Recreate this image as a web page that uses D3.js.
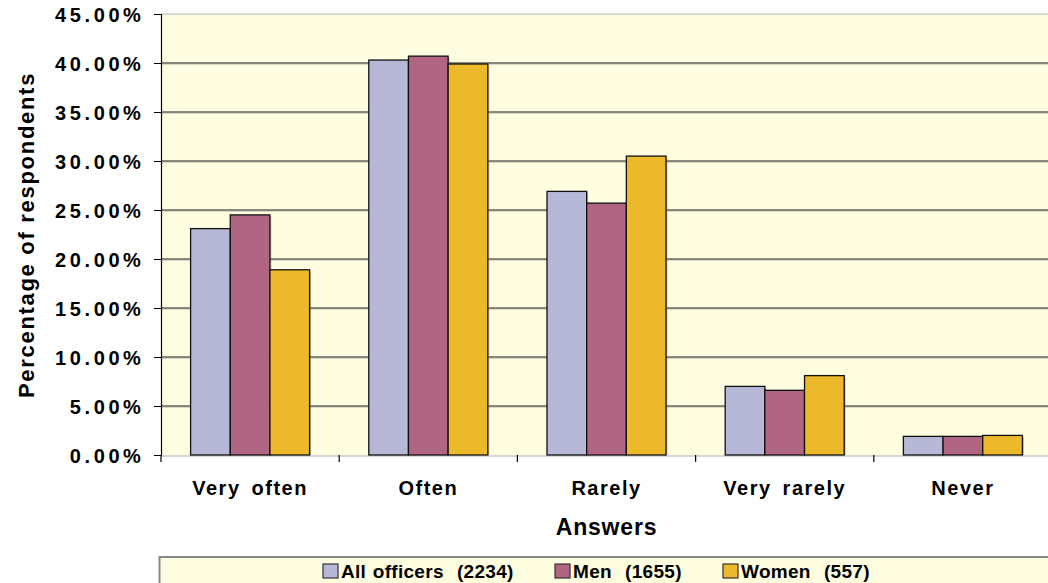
<!DOCTYPE html>
<html>
<head>
<meta charset="utf-8">
<script src="https://cdn.jsdelivr.net/npm/d3@7"></script>
<style>
  body { margin: 0; background: #fff; }
  svg text { font-family: "Liberation Sans", Arial, sans-serif; font-weight: bold; fill: #000; }
</style>
</head>
<body>
<svg id="chart" width="1048" height="583"></svg>
<script>
var categories = ["Very often", "Often", "Rarely", "Very rarely", "Never"];
var seriesNames = ["All officers  (2234)", "Men  (1655)", "Women  (557)"];
var allOfficers = [23.1, 40.3, 26.9, 7.0, 1.9];
var men = [24.5, 40.7, 25.7, 6.6, 1.9];
var women = [18.9, 39.9, 30.5, 8.1, 2.0];
var yTicks = [0, 5, 10, 15, 20, 25, 30, 35, 40, 45];
var colors = ["#b7b7d8", "#b06683", "#ecb92a"];

var series = [allOfficers, men, women];
var data = categories.map(function(c, i) {
  return { cat: c, vals: series.map(function(s, j) { return { key: j, v: s[i] }; }) };
});

var svg = d3.select("#chart");
var plotL = 161, plotT = 14, plotB = 455, plotR = 1052;

var x = d3.scaleBand().domain(categories).range([plotL, plotR]);
var y = d3.scaleLinear().domain([0, 45]).range([plotB, plotT]);
var xs = d3.scaleBand().domain([0, 1, 2]).range([0, x.bandwidth()]).paddingOuter(0.746);

// plot background
svg.append("rect").attr("x", plotL).attr("y", plotT).attr("width", plotR - plotL).attr("height", plotB - plotT)
  .attr("fill", "#fefde0");

// gridlines
var inner = yTicks.filter(function(t) { return t > 0 && t < 45; });
svg.append("g").selectAll("line").data(inner).enter().append("line")
  .attr("x1", plotL).attr("x2", plotR)
  .attr("y1", function(d) { return y(d) + 1; }).attr("y2", function(d) { return y(d) + 1; })
  .attr("stroke", "#b5b5a5").attr("stroke-width", 1);
svg.append("g").selectAll("line").data(inner).enter().append("line")
  .attr("x1", plotL).attr("x2", plotR)
  .attr("y1", function(d) { return y(d); }).attr("y2", function(d) { return y(d); })
  .attr("stroke", "#66665e").attr("stroke-width", 1.6);
svg.append("line").attr("x1", plotL).attr("x2", plotR).attr("y1", plotT).attr("y2", plotT)
  .attr("stroke", "#cccccc").attr("stroke-width", 1.5);
svg.append("line").attr("x1", plotL).attr("x2", plotR).attr("y1", plotB + 1).attr("y2", plotB + 1)
  .attr("stroke", "#c8c8c8").attr("stroke-width", 1.5);

// bars
var groups = svg.append("g").selectAll("g").data(data).enter().append("g")
  .attr("transform", function(d) { return "translate(" + x(d.cat) + ",0)"; });
groups.selectAll("rect.shadow").data(function(d) { return d.vals; }).enter().append("rect")
  .attr("class", "shadow")
  .attr("x", function(d) { return xs(d.key) + 1.5; })
  .attr("y", function(d) { return y(d.v) + 1.5; })
  .attr("width", xs.bandwidth())
  .attr("height", function(d) { return plotB - y(d.v) - 1.5; })
  .attr("fill", "#8a8a80").attr("opacity", 0.45);
groups.selectAll("rect.bar").data(function(d) { return d.vals; }).enter().append("rect")
  .attr("class", "bar")
  .attr("x", function(d) { return xs(d.key); })
  .attr("y", function(d) { return y(d.v); })
  .attr("width", xs.bandwidth())
  .attr("height", function(d) { return plotB - y(d.v); })
  .attr("fill", function(d) { return colors[d.key]; })
  .attr("stroke", "#111").attr("stroke-width", 1.3);

// y axis
var yAxis = svg.append("g").attr("transform", "translate(" + plotL + ",0)")
  .call(d3.axisLeft(y).tickValues(yTicks).tickSize(7).tickPadding(9.5)
    .tickFormat(function(d) { return d3.format(".2f")(d) + "%"; }));
yAxis.select(".domain").attr("stroke", "#000").attr("stroke-width", 1.2);
yAxis.selectAll(".tick line").attr("stroke", "#000");
yAxis.selectAll("text").style("font-size", "20px").style("letter-spacing", "3.6px").attr("dy", "0.36em");

// x axis
var xAxis = svg.append("g").attr("transform", "translate(0," + plotB + ")")
  .call(d3.axisBottom(x).tickSize(0).tickPadding(33));
xAxis.select(".domain").remove();
xAxis.selectAll("text").attr("dy", "0.35em").style("font-size", "20px").style("letter-spacing", "1.5px").style("word-spacing", "4px");
svg.append("g").selectAll("line").data(d3.range(categories.length + 1)).enter().append("line")
  .attr("x1", function(i) { return plotL + i * x.bandwidth(); })
  .attr("x2", function(i) { return plotL + i * x.bandwidth(); })
  .attr("y1", plotB).attr("y2", plotB + 7)
  .attr("stroke", "#000").attr("stroke-width", 1.2);

// axis titles
svg.append("text").attr("x", (plotL + plotR) / 2).attr("y", 535).attr("text-anchor", "middle")
  .style("font-size", "23px").style("letter-spacing", "0.8px").text("Answers");
svg.append("text").attr("transform", "translate(34,235) rotate(-90)").attr("text-anchor", "middle")
  .style("font-size", "22px").style("letter-spacing", "1.7px").text("Percentage of respondents");

// legend
svg.append("rect").attr("x", 159.5).attr("y", 557).attr("width", 900).attr("height", 40)
  .attr("fill", "#fefde0").attr("stroke", "#888").attr("stroke-width", 2);
var legX = [323, 555, 723];
var leg = svg.append("g").selectAll("g").data(seriesNames).enter().append("g")
  .attr("transform", function(d, i) { return "translate(" + legX[i] + ",564)"; });
leg.append("rect").attr("width", 15).attr("height", 14)
  .attr("fill", function(d, i) { return colors[i]; }).attr("stroke", "#333").attr("stroke-width", 1.2);
leg.append("text").attr("x", 18).attr("y", 14).style("font-size", "19px").style("letter-spacing", "0.3px")
  .style("white-space", "pre").style("word-spacing", "1px")
  .text(function(d) { return d; });
</script>
</body>
</html>
